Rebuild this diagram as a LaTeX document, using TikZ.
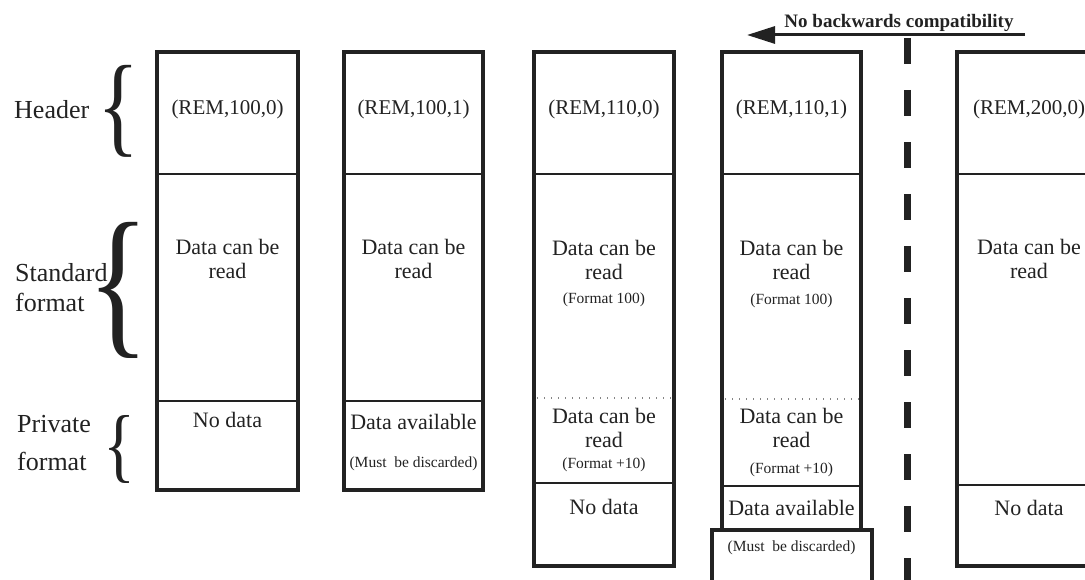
\documentclass[tikz,border=0pt]{standalone}
\usepackage{fontspec}
\setmainfont{Liberation Serif}
\usetikzlibrary{arrows.meta}
\definecolor{ink}{HTML}{222222}
\newcommand\remfont{\fontsize{21}{24}\selectfont}
\newcommand\cellfont{\fontsize{22}{24}\selectfont}
\newcommand\notefont{\fontsize{15.5}{18}\selectfont}
\newcommand\sidefont{\fontsize{26}{30}\selectfont}
\newcommand\bracesym[2]{\resizebox*{#1}{#2}{\{}}
\begin{document}
\begin{tikzpicture}[x=1pt, y=-1pt, >={Triangle[length=28pt,width=17pt]},
 every node/.style={text=ink, inner sep=0pt},
 frame/.style={draw=ink, line width=4pt},
 rule/.style={draw=ink, line width=1.3pt},
 dotrule/.style={draw=ink!55, line width=1.2pt, dash pattern=on 1.3pt off 5.7pt},
 rem/.style={font=\remfont, anchor=base},
 cell/.style={font=\cellfont, align=center, anchor=north},
 line/.style={font=\cellfont, anchor=base},
 note/.style={font=\notefont, anchor=base},
 side/.style={font=\sidefont, align=left, anchor=north west}]
\useasboundingbox (0,0) rectangle (1085,580);

% side labels and braces
\node[font=\sidefont, anchor=base west] (hdr) at (14,119) {Header};
\node[side] (std) at (15,263) {Standard\\format};
\node[side, font=\fontsize{26}{38}\selectfont] (prv) at (17,415) {Private\\format};
\node (brhdr) at (119,111) {\bracesym{42pt}{92pt}};
\node (brstd) at (119,290) {\bracesym{62pt}{136pt}};
\node (brprv) at (120,449) {\bracesym{32pt}{68pt}};

% columns
\draw[frame] (157,52) rectangle (298,490);
\draw[frame] (344,52) rectangle (483,490);
\draw[frame] (534,52) rectangle (674,566);
\draw[frame] (722,52) rectangle (861,530);
\draw[frame] (712,600) -- (712,530) -- (872,530) -- (872,600);
\draw[frame] (957,52) rectangle (1101,566);

% section rules
\draw[rule] (159,174) -- (296,174);
\draw[rule] (346,174) -- (481,174);
\draw[rule] (536,174) -- (672,174);
\draw[rule] (724,174) -- (859,174);
\draw[rule] (959,174) -- (1099,174);
\draw[rule] (159,401) -- (296,401);
\draw[rule] (346,401) -- (481,401);
\draw[dotrule] (537,398) -- (672,398);
\draw[dotrule] (725,399) -- (859,399);
\draw[rule] (536,483) -- (672,483);
\draw[rule] (724,486) -- (859,486);
\draw[rule] (959,485) -- (1099,485);

% headers
\node[rem] (rem1) at (227.5,115) {(REM,100,0)};
\node[rem] (rem2) at (413.5,115) {(REM,100,1)};
\node[rem] (rem3) at (604,115) {(REM,110,0)};
\node[rem] (rem4) at (791.5,115) {(REM,110,1)};
\node[rem] (rem5) at (1029,115) {(REM,200,0)};

% standard format
\node[cell] (std1) at (227.5,239) {Data can be\\read};
\node[cell] (std2) at (413.5,239) {Data can be\\read};
\node[cell] (std3) at (604,240) {Data can be\\read};
\node[cell] (std4) at (791.5,240) {Data can be\\read};
\node[cell] (std5) at (1029,239) {Data can be\\read};
\node[note] (fmt3) at (604,304) {(Format 100)};
\node[note] (fmt4) at (791.5,305) {(Format 100)};

% private format
\node[line] (prv1) at (227.5,427) {No data};
\node[line] (prv2) at (413.5,429) {Data available};
\node[note] (dis2) at (413.5,467) {(Must~ be discarded)};
\node[cell] (ext3) at (604,408) {Data can be\\read};
\node[cell] (ext4) at (791.5,408) {Data can be\\read};
\node[note] (fmt3b) at (604,468) {(Format +10)};
\node[note] (fmt4b) at (791.5,473) {(Format +10)};
\node[line] (nod3) at (604,514) {No data};
\node[line] (avl4) at (791.5,515) {Data available};
\node[note] (dis4) at (791.5,551) {(Must~ be discarded)};
\node[line] (nod5) at (1029,515) {No data};

% compatibility break
\node[font=\fontsize{19}{22}\selectfont\bfseries, anchor=base] (nocompat) at (899,28) {No backwards compatibility};
\coordinate (arrR) at (1025,35);
\coordinate (arrL) at (747,35);
\draw[->, draw=ink, fill=ink, line width=3pt] (arrR) -- (arrL);
\coordinate (sepT) at (907,38);
\coordinate (sepB) at (907,600);
\draw[draw=ink, line width=7pt, dash pattern=on 26pt off 26pt] (sepT) -- (sepB);
\end{tikzpicture}
\end{document}
